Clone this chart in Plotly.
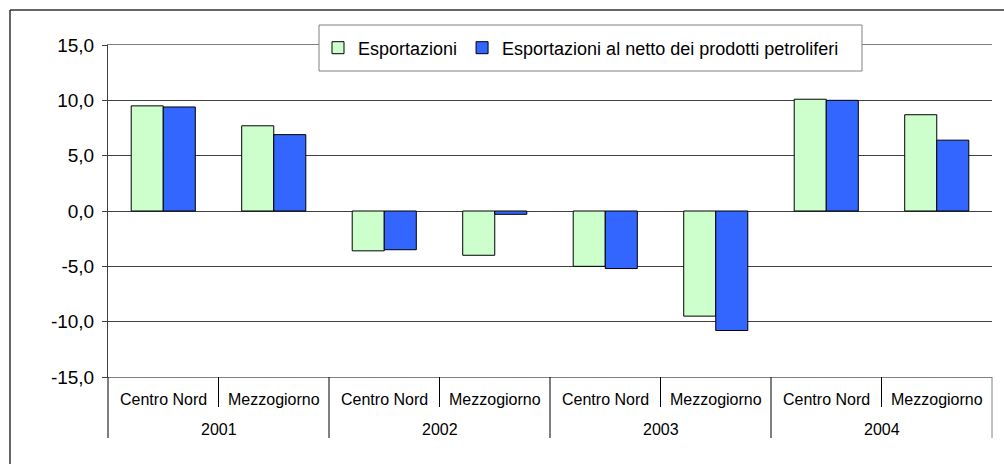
import plotly.graph_objects as go

years = ["2001", "2001", "2002", "2002", "2003", "2003", "2004", "2004"]
regions = ["Centro Nord", "Mezzogiorno"] * 4
year_labels = ["2001", "2002", "2003", "2004"]
esportazioni = [9.5, 7.7, -3.6, -4.0, -5.0, -9.5, 10.1, 8.7]
esportazioni_netto = [9.4, 6.9, -3.5, -0.3, -5.2, -10.8, 10.0, 6.4]
series_names = ["Esportazioni", "Esportazioni al netto dei prodotti petroliferi"]
y_ticks = [-15, -10, -5, 0, 5, 10, 15]
y_ticktext = [f"{v:.1f}".replace(".", ",") for v in y_ticks]

FONT = "Liberation Sans, Arial, sans-serif"
CATFONT = 16
TICKFONT = 19
LEGFONT = 18

fig = go.Figure()
fig.add_trace(go.Bar(
    x=[years, regions], y=esportazioni, name=series_names[0],
    marker=dict(color="#CCFFCC", line=dict(color="#000000", width=1)),
))
fig.add_trace(go.Bar(
    x=[years, regions], y=esportazioni_netto, name=series_names[1],
    marker=dict(color="#3366FF", line=dict(color="#000000", width=1)),
))

L, R, T, B = 108, 12, 45, 87
W, H = 1004, 464
pw, ph = W - L - R, H - T - B


def py(ypix):
    return (H - B - ypix) / ph


def px(xpix):
    return (xpix - L) / pw


n = len(regions)
shapes = []
annotations = []
for i, reg in enumerate(regions):
    annotations.append(dict(
        text=reg, xref="paper", yref="paper", x=(i + 0.5) / n, y=py(399),
        xanchor="center", yanchor="middle", showarrow=False,
        font=dict(family=FONT, size=CATFONT, color="#000000"),
    ))
for k in range(n + 1):
    y_end = py(438) if k % 2 == 0 else py(407)
    shapes.append(dict(
        type="line", xref="paper", yref="paper", x0=k / n, x1=k / n,
        y0=0, y1=y_end,
        line=dict(color="#808080" if k == n else "#000000", width=1),
    ))
ng = len(year_labels)
for j, yl in enumerate(year_labels):
    annotations.append(dict(
        text=yl, xref="paper", yref="paper", x=(j + 0.5) / ng, y=py(429),
        xanchor="center", yanchor="middle", showarrow=False,
        font=dict(family=FONT, size=CATFONT, color="#000000"),
    ))

# legend box
shapes.append(dict(
    type="rect", xref="paper", yref="paper", layer="above",
    x0=px(319), x1=px(862), y0=py(71), y1=py(25),
    fillcolor="white", line=dict(color="#808080", width=1),
))
# outer frame (top + left)
shapes.append(dict(type="line", xref="paper", yref="paper",
                   x0=px(10), x1=px(1010), y0=py(10), y1=py(10),
                   line=dict(color="#333333", width=1.5)))
shapes.append(dict(type="line", xref="paper", yref="paper",
                   x0=px(10), x1=px(10), y0=py(10), y1=py(470),
                   line=dict(color="#333333", width=1.5)))

fig.update_layout(
    width=W, height=H,
    margin=dict(l=L, r=R, t=T, b=B, pad=0),
    paper_bgcolor="white", plot_bgcolor="white",
    barmode="group", bargap=0.42, bargroupgap=0,
    font=dict(family=FONT, size=CATFONT, color="#000000"),
    showlegend=True,
    legend=dict(
        orientation="h",
        x=px(318), xanchor="left",
        y=py(48), yanchor="middle",
        bgcolor="rgba(0,0,0,0)", borderwidth=0,
        font=dict(family=FONT, size=LEGFONT),
        itemwidth=30,
    ),
    xaxis=dict(
        type="multicategory",
        showticklabels=False, showdividers=False, ticks="",
        showline=True, linecolor="#808080", linewidth=1, mirror=True,
        showgrid=False,
    ),
    yaxis=dict(
        range=[-15, 15], tickvals=y_ticks, ticktext=y_ticktext,
        showgrid=True, gridcolor="#404040", gridwidth=1,
        zeroline=True, zerolinecolor="#404040", zerolinewidth=1,
        showline=True, linecolor="#404040", linewidth=1,
        ticks="outside", ticklen=5, tickcolor="#404040",
        ticklabelstandoff=4,
        tickfont=dict(family=FONT, size=TICKFONT),
    ),
    shapes=shapes,
    annotations=annotations,
)

fig.write_html("out.html", config={"displayModeBar": False},
               post_script="document.body.style.margin='0px';")
